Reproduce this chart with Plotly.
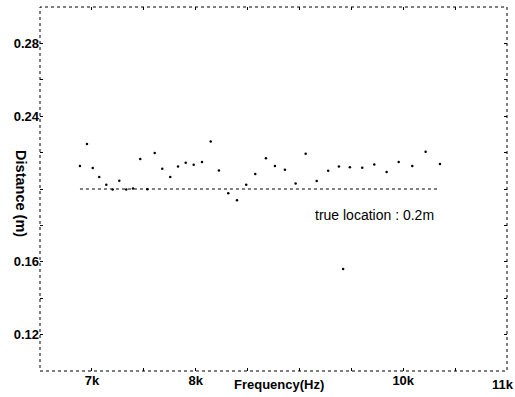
import plotly.graph_objects as go

freq_hz = [6885, 6953, 7008, 7071, 7139, 7200, 7264, 7331, 7396, 7466, 7534,
           7605, 7678, 7755, 7830, 7904, 7981, 8061, 8145, 8224, 8314, 8398,
           8487, 8574, 8677, 8764, 8860, 8963, 9060, 9166, 9277, 9380, 9421,
           9486, 9605, 9721, 9840, 9956, 10087, 10216, 10354]
distance_m = [0.2126, 0.2247, 0.2115, 0.2066, 0.2024, 0.1997, 0.2046, 0.1997,
              0.2003, 0.2165, 0.1999, 0.2198, 0.2111, 0.2066, 0.2124, 0.2144,
              0.2133, 0.2148, 0.2261, 0.2102, 0.1976, 0.1938, 0.2024, 0.2082,
              0.2169, 0.2126, 0.2106, 0.2030, 0.2194, 0.2044, 0.2100, 0.2124,
              0.1560, 0.2120, 0.2117, 0.2135, 0.2093, 0.2148, 0.2126, 0.2205,
              0.2138]
true_freq = [6885, 10354]
true_loc = [0.2, 0.2]

x_tickvals = [6500, 7000, 7500, 8000, 8500, 9000, 9500, 10000, 10500, 11000]
x_ticktext = ["", "7k", "", "8k", "", "", "", "10k", "", ""]
y_tickvals = [0.10, 0.12, 0.14, 0.16, 0.18, 0.20, 0.22, 0.24, 0.26, 0.28, 0.30]
y_ticktext = ["", "0.12", "", "0.16", "", "", "", "0.24", "", "0.28", ""]

tick_font = dict(family="Liberation Sans", size=13, color="black", weight="bold")

fig = go.Figure()
fig.add_trace(go.Scatter(x=true_freq, y=true_loc, mode="lines",
                         line=dict(color="black", width=1, dash="dot"),
                         showlegend=False))
fig.add_trace(go.Scatter(x=freq_hz, y=distance_m, mode="markers",
                         marker=dict(color="black", size=2.5),
                         showlegend=False))

fig.add_shape(type="rect", xref="paper", yref="paper", x0=0, y0=0, x1=1, y1=1,
              line=dict(color="black", width=1, dash="dot"))

fig.add_annotation(x=-0.0407, y=0.486, xref="paper", yref="paper",
                   xanchor="center", yanchor="middle",
                   text="<b>Distance (m)</b>", showarrow=False, textangle=90,
                   font=dict(family="Liberation Sans", size=14.5, color="black"))

fig.add_annotation(x=9727, y=0.1856, text="true location : 0.2m", showarrow=False,
                   font=dict(family="Liberation Sans", size=14, color="black"))
fig.add_annotation(x=8800, y=0.0, yref="paper", yshift=-13, text="<b>Frequency(Hz)</b>",
                   showarrow=False, yanchor="middle",
                   font=dict(family="Liberation Sans", size=13, color="black"))
fig.add_annotation(x=11000, y=0.0, yref="paper", yshift=-13, xshift=-4,
                   text="<b>11k</b>", showarrow=False, yanchor="middle",
                   font=tick_font)

fig.update_layout(
    width=515, height=397,
    margin=dict(l=40, r=8, t=7, b=26),
    paper_bgcolor="white", plot_bgcolor="white",
    font=dict(family="Liberation Sans", size=12, color="black"),
)
fig.update_xaxes(range=[6500, 11000], tickvals=x_tickvals, ticktext=x_ticktext,
                 ticks="inside", ticklen=3, tickcolor="black", showgrid=False,
                 zeroline=False, showline=False, mirror="ticks",
                 tickfont=tick_font)
fig.update_yaxes(range=[0.10, 0.30], tickvals=y_tickvals, ticktext=y_ticktext,
                 ticks="inside", ticklen=3, tickcolor="black", showgrid=False,
                 zeroline=False, showline=False, mirror="ticks",
                 tickfont=tick_font)

fig.write_html("out.html")
